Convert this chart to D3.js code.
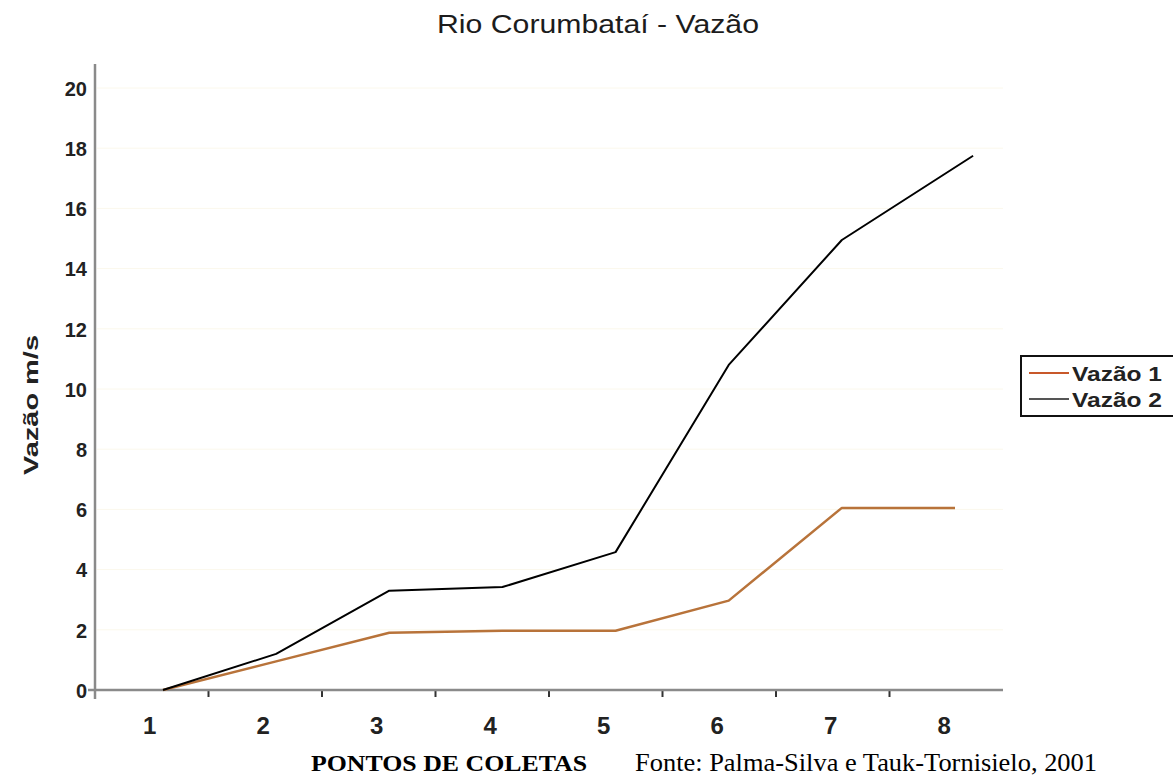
<!DOCTYPE html>
<html>
<head>
<meta charset="utf-8">
<script src="https://cdn.jsdelivr.net/npm/d3@7"></script>
<style>
  body { margin: 0; background: #fff; }
  text { font-family: "Liberation Sans", Arial, sans-serif; }
</style>
</head>
<body>
<div id="my_dataviz"></div>
<script>
// Data
const pontos = [1, 2, 3, 4, 5, 6, 7, 8]
const vazao1X = [1, 2, 3, 4, 5, 6, 7, 8]
const vazao1 = [0, 0.95, 1.9, 1.97, 1.97, 2.97, 6.05, 6.05]
const vazao2X = [1, 2, 3, 4, 5, 6, 7, 8.16]
const vazao2 = [0, 1.2, 3.3, 3.42, 4.58, 10.8, 14.95, 17.75]
const yTicks = [0, 2, 4, 6, 8, 10, 12, 14, 16, 18, 20]
const seriesNames = ["Vazão 1", "Vazão 2"]
const seriesColors = ["#b8733a", "#000000"]
const legendColors = ["#c8582a", "#555555"]

// Graph dimension
const W = 1173, H = 778
const plot = { left: 95, right: 1003, top: 88, bottom: 690 }

const svg = d3.select("#my_dataviz")
    .append("svg")
    .attr("width", W)
    .attr("height", H)

// Scales
const x = d3.scaleBand()
    .domain(pontos)
    .range([plot.left, plot.right])

// points sit a bit right of the band centres in the original
const xLine = d3.scaleLinear()
    .domain([1, 8])
    .range([163, 955])

const y = d3.scaleLinear()
    .domain([0, 20])
    .range([plot.bottom, plot.top])

// faint grid, barely visible in the scan
svg.append("g")
    .selectAll("line")
    .data(yTicks.filter(d => d > 0))
    .join("line")
    .attr("x1", plot.left + 2)
    .attr("x2", plot.right)
    .attr("y1", d => y(d))
    .attr("y2", d => y(d))
    .attr("stroke", "#fbf8ec")
    .attr("stroke-width", 1)

// Title
svg.append("text")
    .attr("x", 598)
    .attr("y", 33)
    .attr("text-anchor", "middle")
    .attr("textLength", 322)
    .attr("lengthAdjust", "spacingAndGlyphs")
    .style("font-size", "25px")
    .style("fill", "#1c1c1c")
    .text("Rio Corumbataí - Vazão")

// Y axis
const yAxis = svg.append("g")
    .attr("transform", `translate(${plot.left},0)`)
    .call(d3.axisLeft(y).tickValues(yTicks).tickSize(0).tickPadding(8))
yAxis.select(".domain").remove()
yAxis.selectAll("text")
    .style("font-size", "20px")
    .style("font-weight", "bold")
    .style("fill", "#222")
    .attr("dy", "0.36em")

svg.append("line")
    .attr("x1", plot.left).attr("x2", plot.left)
    .attr("y1", 64).attr("y2", plot.bottom + 9)
    .attr("stroke", "#8a8a8a")
    .attr("stroke-width", 2.5)

// X axis
const xAxis = svg.append("g")
    .attr("transform", `translate(0,${plot.bottom})`)
    .call(d3.axisBottom(x).tickSize(0).tickPadding(27))
xAxis.select(".domain").remove()
xAxis.selectAll("text")
    .attr("dx", -2)
    .style("font-size", "24px")
    .style("font-weight", "bold")
    .style("fill", "#222")

// tick marks sit between the categories
svg.append("g")
    .selectAll("line")
    .data(pontos.slice(1))
    .join("line")
    .attr("x1", d => x(d))
    .attr("x2", d => x(d))
    .attr("y1", plot.bottom)
    .attr("y2", plot.bottom + 7)
    .attr("stroke", "#333")
    .attr("stroke-width", 2)

svg.append("line")
    .attr("x1", 88).attr("x2", plot.right)
    .attr("y1", plot.bottom).attr("y2", plot.bottom)
    .attr("stroke", "#8a8a8a")
    .attr("stroke-width", 2.5)

// Lines
const line = d3.line()
    .x(d => xLine(d[0]))
    .y(d => y(d[1]))

const series = [
    d3.zip(vazao1X, vazao1),
    d3.zip(vazao2X, vazao2)
]

svg.append("g")
    .selectAll("path")
    .data(series)
    .join("path")
    .attr("d", line)
    .attr("fill", "none")
    .attr("stroke", (d, i) => seriesColors[i])
    .attr("stroke-width", (d, i) => i == 0 ? 2.5 : 2)
    .attr("stroke-linejoin", "round")

// Axis titles
svg.append("text")
    .attr("transform", "translate(38,405) rotate(-90)")
    .attr("text-anchor", "middle")
    .attr("textLength", 140)
    .attr("lengthAdjust", "spacingAndGlyphs")
    .style("font-size", "20px")
    .style("font-weight", "bold")
    .style("fill", "#222")
    .text("Vazão  m/s")

svg.append("text")
    .attr("x", 449)
    .attr("y", 771)
    .attr("text-anchor", "middle")
    .attr("textLength", 276)
    .attr("lengthAdjust", "spacingAndGlyphs")
    .style("font-family", "'Liberation Serif', 'Times New Roman', serif")
    .style("font-size", "23px")
    .style("font-weight", "bold")
    .text("PONTOS DE COLETAS")

svg.append("text")
    .attr("x", 635)
    .attr("y", 771)
    .attr("textLength", 462)
    .attr("lengthAdjust", "spacingAndGlyphs")
    .style("font-family", "'Liberation Serif', 'Times New Roman', serif")
    .style("font-size", "26px")
    .text("Fonte: Palma-Silva e Tauk-Tornisielo, 2001")

// Legend
const legend = svg.append("g")
    .attr("transform", "translate(1021,356)")

legend.append("rect")
    .attr("x", 0)
    .attr("y", 0)
    .attr("width", 170)
    .attr("height", 60)
    .attr("fill", "#fff")
    .attr("stroke", "#111")
    .attr("stroke-width", 2)

const item = legend.selectAll(".item")
    .data(seriesNames)
    .join("g")
    .attr("class", "item")
    .attr("transform", (d, i) => `translate(0,${17 + i * 26})`)

item.append("line")
    .attr("x1", 8)
    .attr("x2", 48)
    .attr("stroke", (d, i) => legendColors[i])
    .attr("stroke-width", 2)

item.append("text")
    .attr("x", 51)
    .attr("dy", "0.36em")
    .attr("textLength", 90)
    .attr("lengthAdjust", "spacingAndGlyphs")
    .style("font-size", "21px")
    .style("font-weight", "bold")
    .style("fill", "#222")
    .text(d => d)
</script>
</body>
</html>
